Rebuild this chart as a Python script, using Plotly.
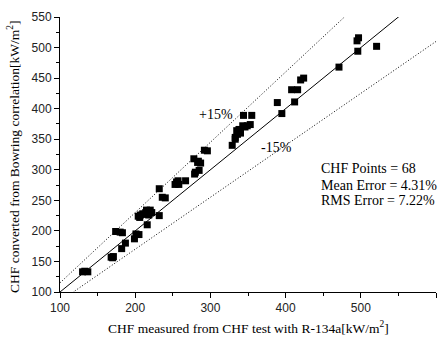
import plotly.graph_objects as go

# Measured CHF (x) and Bowring-converted CHF (y), kW/m^2
chf_measured = [130, 137, 133, 168, 171, 174, 180, 182, 187, 199,
                201, 205, 204, 207, 212, 215, 220, 216, 218, 214,
                232, 232, 236, 240, 253, 258, 257, 267, 279, 285,
                278, 284, 287, 292, 296, 283, 329, 333, 336, 335,
                338, 343, 349, 353, 344, 355, 340, 395, 389, 412,
                408, 416, 420, 424, 471, 496, 495, 497, 521, 222,
                206, 255, 333, 346, 280, 210, 183, 170]
chf_bowring = [133, 133, 134, 157, 158, 199, 198, 171, 180, 187,
               195, 194, 224, 226, 227, 234, 234, 210, 226, 230,
               225, 269, 255, 254, 276, 276, 282, 282, 293, 299,
               318, 314, 311, 332, 331, 312, 340, 353, 358, 364,
               366, 372, 372, 374, 389, 389, 360, 392, 410, 411,
               431, 431, 447, 450, 468, 494, 511, 516, 502, 230,
               222, 280, 350, 370, 296, 228, 197, 156]

line_x = [100, 600]
ratio_ideal = 1.0
ratio_upper = 1.15
ratio_lower = 0.85

x_ticks = [100, 200, 300, 400, 500, 600]
y_ticks = [100, 150, 200, 250, 300, 350, 400, 450, 500, 550]

stats_text = ["CHF Points = 68", "Mean Error = 4.31%", "RMS Error = 7.22%"]
stats_y = [302, 274, 250]

fig = go.Figure()
fig.add_trace(go.Scatter(x=line_x, y=[v * ratio_ideal for v in line_x], mode="lines",
                         line=dict(color="black", width=1), showlegend=False))
fig.add_trace(go.Scatter(x=line_x, y=[v * ratio_upper for v in line_x], mode="lines",
                         line=dict(color="black", width=1, dash="1px,2px"), showlegend=False))
fig.add_trace(go.Scatter(x=line_x, y=[v * ratio_lower for v in line_x], mode="lines",
                         line=dict(color="black", width=1, dash="1px,2px"), showlegend=False))
fig.add_trace(go.Scatter(x=chf_measured, y=chf_bowring, mode="markers",
                         marker=dict(symbol="square", size=7, color="black", line=dict(width=0)),
                         showlegend=False))

serif = "Liberation Serif, Times New Roman, serif"
sans = "Liberation Sans, Arial, sans-serif"

axis_common = dict(showline=True, linecolor="black", linewidth=1, showgrid=False, zeroline=False,
                   ticks="outside", ticklen=5, tickwidth=1, tickcolor="black",
                   tickfont=dict(family=sans, size=12, color="#222"), mirror=False)

annotations = [
    dict(text="CHF measured from CHF test with R-134a[kW/m<sup>2</sup>]", xref="paper", yref="paper",
         x=0.5, y=-0.13, xanchor="center", yanchor="middle", showarrow=False,
         font=dict(family=serif, size=13.5, color="black")),
    dict(text="CHF converted from Bowring correlation[kW/m<sup>2</sup>]", xref="paper", yref="paper",
         x=-0.123, y=0.49, xanchor="center", yanchor="middle", showarrow=False, textangle=-90,
         font=dict(family=serif, size=13.5, color="black")),
    dict(text="+15%", x=308, y=390, showarrow=False, xanchor="center", yanchor="middle",
         font=dict(family=serif, size=14, color="black")),
    dict(text="-15%", x=388, y=337, showarrow=False, xanchor="center", yanchor="middle",
         font=dict(family=serif, size=14, color="black")),
]
for txt, yy in zip(stats_text, stats_y):
    annotations.append(dict(text=txt, x=444, y=yy, showarrow=False, xanchor="left", yanchor="middle",
                            font=dict(family=serif, size=14, color="black")))

fig.update_layout(
    width=446, height=342,
    margin=dict(l=60, r=10, t=13, b=50),
    paper_bgcolor="white", plot_bgcolor="white",
    xaxis=dict(range=[100, 600], tickvals=x_ticks,
               minor=dict(ticks="outside", ticklen=3, tickcolor="black", dtick=50, tick0=100),
               **axis_common),
    yaxis=dict(range=[100, 550], tickvals=y_ticks,
               minor=dict(ticks="outside", ticklen=3, tickcolor="black", dtick=25, tick0=100),
               **axis_common),
    annotations=annotations,
)

fig.write_html("out.html")
